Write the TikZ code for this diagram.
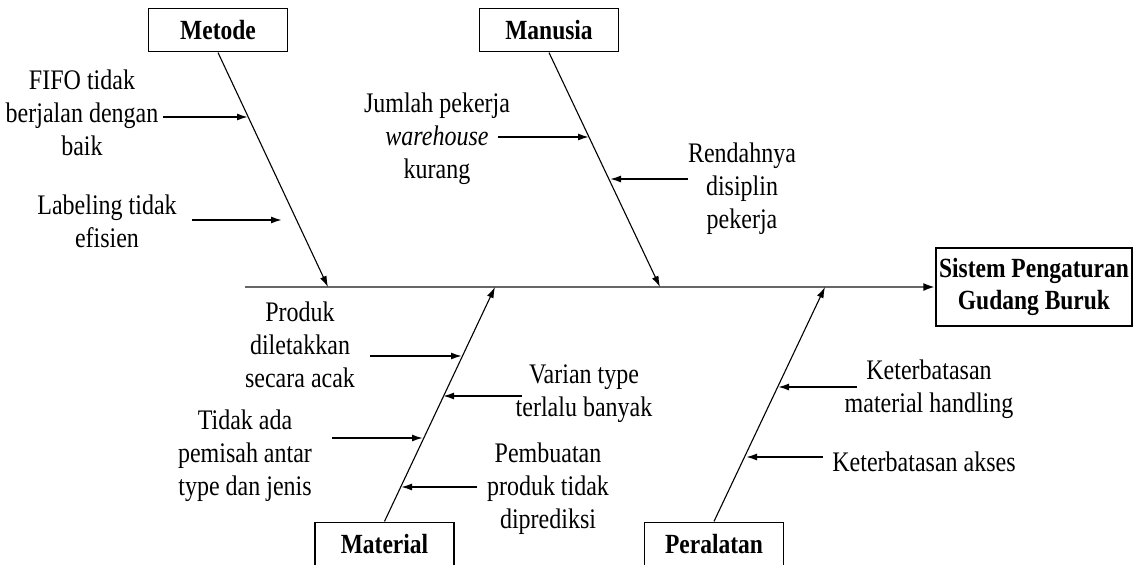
\documentclass[tikz,border=0pt]{standalone}
\usepackage{fontspec}
\setmainfont{Liberation Serif}
\usetikzlibrary{arrows.meta, positioning}

\begin{document}
\begin{tikzpicture}[x=1pt, y=-1pt, >={Latex[length=11pt,width=7pt]},
    catbox/.style={draw, line width=1.3pt, minimum width=139pt, minimum height=37pt,
        inner sep=0pt, align=center, font=\fontsize{23.5}{27}\selectfont\bfseries,
        yscale=1.18, transform shape},
    cause/.style={align=center, inner sep=0pt, font=\fontsize{24}{28}\selectfont,
        yscale=1.18, transform shape},
    bone/.style={line width=1.1pt, ->},
    sub/.style={line width=1.6pt, ->}]

    \useasboundingbox (0,0) rectangle (1133,565);

    % --- Head and spine ---
    \node[catbox, minimum width=196pt, minimum height=66pt] (sys) at (1034,287)
        {Sistem Pengaturan\\Gudang Buruk};
    \coordinate (tail) at (245,287);
    \draw[line width=2.4pt, black!60, -{Latex[length=12pt,width=8pt,color=black]}]
        (tail) -- (sys.west);

    % --- Category boxes ---
    \node[catbox] (metode) at (218,30) {Metode};
    \node[catbox] (manusia) at (549,30) {Manusia};
    \node[catbox] (material) at (384.5,544) {Material};
    \node[catbox] (peralatan) at (714,544) {Peralatan};

    % --- Bones ---
    \coordinate (jMet) at (328,287);
    \coordinate (jMan) at (660,287);
    \coordinate (jMat) at (495,287);
    \coordinate (jPer) at (825,287);
    \draw[bone] (metode.south) -- (jMet);
    \draw[bone] (manusia.south) -- (jMan);
    \draw[bone] (material.north) -- (jMat);
    \draw[bone] (peralatan.north) -- (jPer);

    % --- Metode ---
    \node[cause] (fifo) at (82,113) {FIFO tidak\\berjalan dengan\\baik};
    \coordinate (fifoA) at (163,117);
    \coordinate (fifoB) at (248,117);
    \draw[sub] (fifoA) -- (fifoB);

    \node[cause] (label) at (107,221) {Labeling tidak\\efisien};
    \coordinate (labelA) at (192,220);
    \coordinate (labelB) at (282,220);
    \draw[sub] (labelA) -- (labelB);

    % --- Manusia ---
    \node[cause] (jumlah) at (437,139) {Jumlah pekerja\\\textit{warehouse}\\kurang};
    \coordinate (jumlahA) at (498,137);
    \coordinate (jumlahB) at (589,137);
    \draw[sub] (jumlahA) -- (jumlahB);

    \node[cause] (disiplin) at (742,189) {Rendahnya\\disiplin\\pekerja};
    \coordinate (disiplinA) at (688,179);
    \coordinate (disiplinB) at (610,179);
    \draw[sub] (disiplinA) -- (disiplinB);

    % --- Material ---
    \node[cause] (acak) at (300,345) {Produk\\diletakkan\\secara acak};
    \coordinate (acakA) at (370,356);
    \coordinate (acakB) at (462,356);
    \draw[sub] (acakA) -- (acakB);

    \node[cause] (varian) at (584,394) {Varian type\\terlalu banyak};
    \coordinate (varianA) at (522,396);
    \coordinate (varianB) at (443,396);
    \draw[sub] (varianA) -- (varianB);

    \node[cause] (pemisah) at (245,456) {Tidak ada\\pemisah antar\\type dan jenis};
    \coordinate (pemisahA) at (332,438);
    \coordinate (pemisahB) at (423,438);
    \draw[sub] (pemisahA) -- (pemisahB);

    \node[cause] (prediksi) at (548,489) {Pembuatan\\produk tidak\\diprediksi};
    \coordinate (prediksiA) at (477,487);
    \coordinate (prediksiB) at (401,487);
    \draw[sub] (prediksiA) -- (prediksiB);

    % --- Peralatan ---
    \node[cause] (handling) at (929,389) {Keterbatasan\\material handling};
    \coordinate (handlingA) at (857,387);
    \coordinate (handlingB) at (778,387);
    \draw[sub] (handlingA) -- (handlingB);

    \node[cause] (akses) at (924,462) {Keterbatasan akses};
    \coordinate (aksesA) at (823,457);
    \coordinate (aksesB) at (746,457);
    \draw[sub] (aksesA) -- (aksesB);

\end{tikzpicture}
\end{document}
